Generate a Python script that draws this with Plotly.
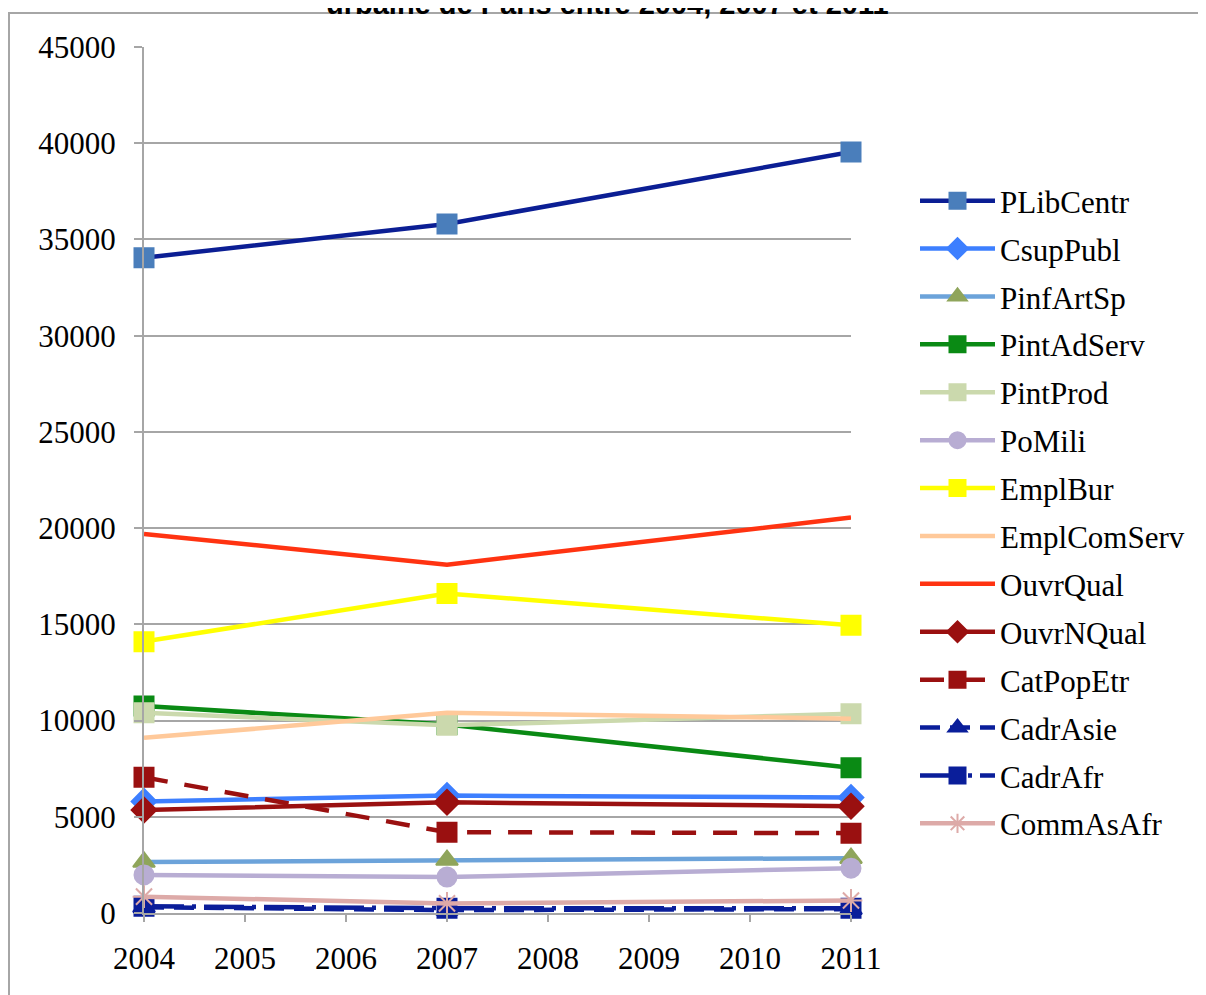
import plotly.graph_objects as go

years = [2004, 2007, 2011]
series_names = ["PLibCentr", "CsupPubl", "PinfArtSp", "PintAdServ", "PintProd", "PoMili",
                "EmplBur", "EmplComServ", "OuvrQual", "OuvrNQual", "CatPopEtr",
                "CadrAsie", "CadrAfr", "CommAsAfr"]
PLibCentr = [34050, 35800, 39550]
CsupPubl = [5800, 6100, 6000]
PinfArtSp = [2650, 2750, 2850]
PintAdServ = [10750, 9800, 7550]
PintProd = [10400, 9750, 10350]
PoMili = [1980, 1870, 2330]
EmplBur = [14100, 16600, 14950]
EmplComServ = [9100, 10400, 10100]
OuvrQual = [19700, 18100, 20550]
OuvrNQual = [5350, 5750, 5550]
CatPopEtr = [7050, 4200, 4150]
CadrAsie = [300, 150, 200]
CadrAfr = [350, 250, 250]
CommAsAfr = [850, 500, 650]
values = [PLibCentr, CsupPubl, PinfArtSp, PintAdServ, PintProd, PoMili, EmplBur,
          EmplComServ, OuvrQual, OuvrNQual, CatPopEtr, CadrAsie, CadrAfr, CommAsAfr]

styles = {
    "PLibCentr": dict(line="#0B1E94", marker="#4A7EBB", symbol="square", dash="solid"),
    "CsupPubl": dict(line="#3D7FFF", marker="#3D7FFF", symbol="diamond", dash="solid"),
    "PinfArtSp": dict(line="#6CA3DA", marker="#8FA55B", symbol="triangle-up", dash="solid"),
    "PintAdServ": dict(line="#0A8A14", marker="#0A8A14", symbol="square", dash="solid"),
    "PintProd": dict(line="#CBD9AD", marker="#CBD9AD", symbol="square", dash="solid"),
    "PoMili": dict(line="#B8ADD3", marker="#B8ADD3", symbol="circle", dash="solid"),
    "EmplBur": dict(line="#FFFF00", marker="#FFFF00", symbol="square", dash="solid"),
    "EmplComServ": dict(line="#FFC99A", marker=None, symbol=None, dash="solid"),
    "OuvrQual": dict(line="#FF3311", marker=None, symbol=None, dash="solid"),
    "OuvrNQual": dict(line="#9A1010", marker="#9A1010", symbol="diamond", dash="solid"),
    "CatPopEtr": dict(line="#9A1010", marker="#9A1010", symbol="square", dash="24px,17px"),
    "CadrAsie": dict(line="#0A1E9A", marker="#0A1E9A", symbol="triangle-up", dash="20px,10px"),
    "CadrAfr": dict(line="#0A1E9A", marker="#0A1E9A", symbol="square", dash="40px,8px,4px,8px"),
    "CommAsAfr": dict(line="#DDAAA8", marker="#DDAAA8", symbol="asterisk-open", dash="solid"),
}

fig = go.Figure()
for name, vals in zip(series_names, values):
    st = styles[name]
    if st["marker"] is None:
        mode = "lines"
        marker = None
    else:
        mode = "lines+markers"
        marker = dict(symbol=st["symbol"], size=19, color=st["marker"],
                      line=dict(color=st["marker"], width=2))
    fig.add_trace(go.Scatter(
        x=years, y=vals, name=name, mode=mode, legendgroup=name,
        line=dict(color=st["line"], width=4.5, dash=st["dash"]),
        marker=marker, cliponaxis=False,
    ))

font_serif = "Liberation Serif"
# page has an 8px body margin: figure coords = screen coords - 8
fig.update_layout(
    width=1206, height=995,
    margin=dict(l=136, r=363, t=39, b=90),
    paper_bgcolor="white", plot_bgcolor="white",
    font=dict(family=font_serif, size=31, color="black"),
    xaxis=dict(range=[2004, 2011], dtick=1, tick0=2004, showgrid=False,
               showline=True, linecolor="#A6A6A6", linewidth=2,
               ticks="outside", ticklen=7, tickcolor="#A6A6A6", tickwidth=2,
               ticklabelstandoff=10, zeroline=False,
               tickfont=dict(family=font_serif, size=31)),
    yaxis=dict(range=[0, 45000], dtick=5000, showgrid=True, gridcolor="#A6A6A6",
               gridwidth=2, showline=True, linecolor="#A6A6A6", linewidth=2,
               ticks="outside", ticklen=8, tickcolor="#A6A6A6", tickwidth=2,
               ticklabelstandoff=12, zeroline=False, tickformat="d",
               tickfont=dict(family=font_serif, size=31)),
    legend=dict(x=(907 - 136) / 707, y=(905 - 166) / 866, xanchor="left", yanchor="top",
                font=dict(family=font_serif, size=31), tracegroupgap=4.6,
                bgcolor="rgba(0,0,0,0)", itemwidth=75),
    showlegend=True,
    annotations=[dict(text="<b>urbaine de Paris entre 2004, 2007 et 2011</b>",
                      xref="paper", yref="paper", x=(599 - 136) / 707, y=909 / 866,
                      xanchor="center", yanchor="middle", showarrow=False,
                      font=dict(family="Liberation Sans", size=29, color="black"))],
    shapes=[dict(type="rect", xref="paper", yref="paper",
                 x0=(1 - 136) / 707, x1=1.6, y0=-0.3, y1=(905 - 5) / 866,
                 line=dict(color="#A6A6A6", width=2), layer="below")],
)

fig.write_html("out.html")
